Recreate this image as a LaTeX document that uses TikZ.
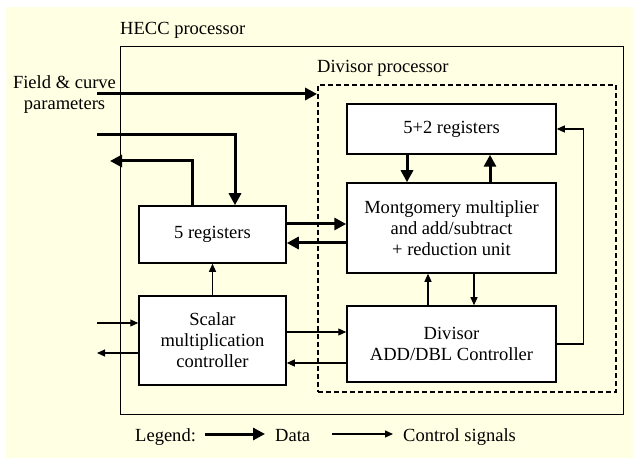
\documentclass[tikz,border=0pt]{standalone}
\usepackage{fontspec}
\setmainfont{Liberation Serif}
\usetikzlibrary{arrows.meta}
\definecolor{cream}{RGB}{255,255,228}
\begin{document}
\begin{tikzpicture}[x=1bp,y=-1bp,
  font=\fontsize{18.6}{21}\selectfont,
  blk/.style={draw,fill=white,line width=1.5bp,inner sep=0pt,align=center,rectangle},
  data/.style={line width=3bp,-{Triangle[length=12bp,width=12bp]}},
  ctrl/.style={line width=1.1bp,-{Triangle[length=8bp,width=7bp]}},
  lbl/.style={inner sep=0pt,anchor=base west}]
\useasboundingbox (0,0) rectangle (633,458);
\fill[white] (0,0) rectangle (633,458);
\fill[cream] (6,7) rectangle (633,458);
% containers
\node[draw,line width=1bp,minimum width=502bp,minimum height=367bp,inner sep=0pt] (hecc) at (372,230.5) {};
\node[draw,line width=1.8bp,dash pattern=on 5bp off 3bp,minimum width=298bp,minimum height=307bp,inner sep=0pt] (dp) at (467,238.5) {};
\node[lbl] (hecclbl) at (120,35) {HECC processor};
\node[lbl] (dplbl) at (317,73) {Divisor processor};
% blocks
\node[blk,minimum width=209bp,minimum height=50bp] (reg52) at (451.5,129) {5+2 registers};
\node[blk,minimum width=209bp,minimum height=90bp] (mont) at (451.5,228) {Montgomery multiplier\\and add/subtract\\+ reduction unit};
\node[blk,minimum width=209bp,minimum height=76bp] (div) at (451.5,344) {Divisor\\ADD/DBL Controller};
\node[blk,minimum width=147bp,minimum height=57bp] (reg5) at (212.5,234.5) {5 registers};
\node[blk,minimum width=147bp,minimum height=89bp] (scal) at (212.5,340.5) {Scalar\\multiplication\\controller};
% external text
\node[inner sep=0pt,align=center] (field) at (64.5,94.5) {Field \& curve\\parameters};
% free ends
\coordinate (fin) at (97,94);
\coordinate (in1) at (97,135);
\coordinate (out1) at (110,161);
\coordinate (in2) at (97,323);
\coordinate (out2) at (97,353);
% data arrows
\draw[data] (fin) -- (fin -| dp.west);
\draw[data] (in1) -| ([xshift=22.5bp]reg5.north);
\draw[data] ([xshift=-20.5bp]reg5.north) |- (out1);
\draw[data] (reg5.east |- 0,224) -- (mont.west |- 0,224);
\draw[data] (mont.west |- 0,243) -- (reg5.east |- 0,243);
\draw[data] (reg52.south -| 407,0) -- (mont.north -| 407,0);
\draw[data] (mont.north -| 490,0) -- (reg52.south -| 490,0);
% control arrows
\draw[ctrl] (div.north -| 428,0) -- (mont.south -| 428,0);
\draw[ctrl] (mont.south -| 474,0) -- (div.north -| 474,0);
\draw[ctrl] (div.east) -- ++(27bp,0) |- (reg52.east);
\draw[ctrl] (scal.north) -- (reg5.south);
\draw[ctrl] (scal.east |- 0,332) -- (div.west |- 0,332);
\draw[ctrl] (div.west |- 0,363) -- (scal.east |- 0,363);
\draw[ctrl] (in2) -- (in2 -| scal.west);
\draw[ctrl] (scal.west |- out2) -- (out2);
% legend
\node[lbl] (leg) at (135,441) {Legend:};
\coordinate (ld1) at (205,434);
\coordinate (ld2) at (265,434);
\draw[data] (ld1) -- (ld2);
\node[lbl] (ldata) at (275,441) {Data};
\coordinate (lc1) at (332,434);
\coordinate (lc2) at (393,434);
\draw[ctrl] (lc1) -- (lc2);
\node[lbl] (lctrl) at (403,441) {Control signals};
\end{tikzpicture}
\end{document}
